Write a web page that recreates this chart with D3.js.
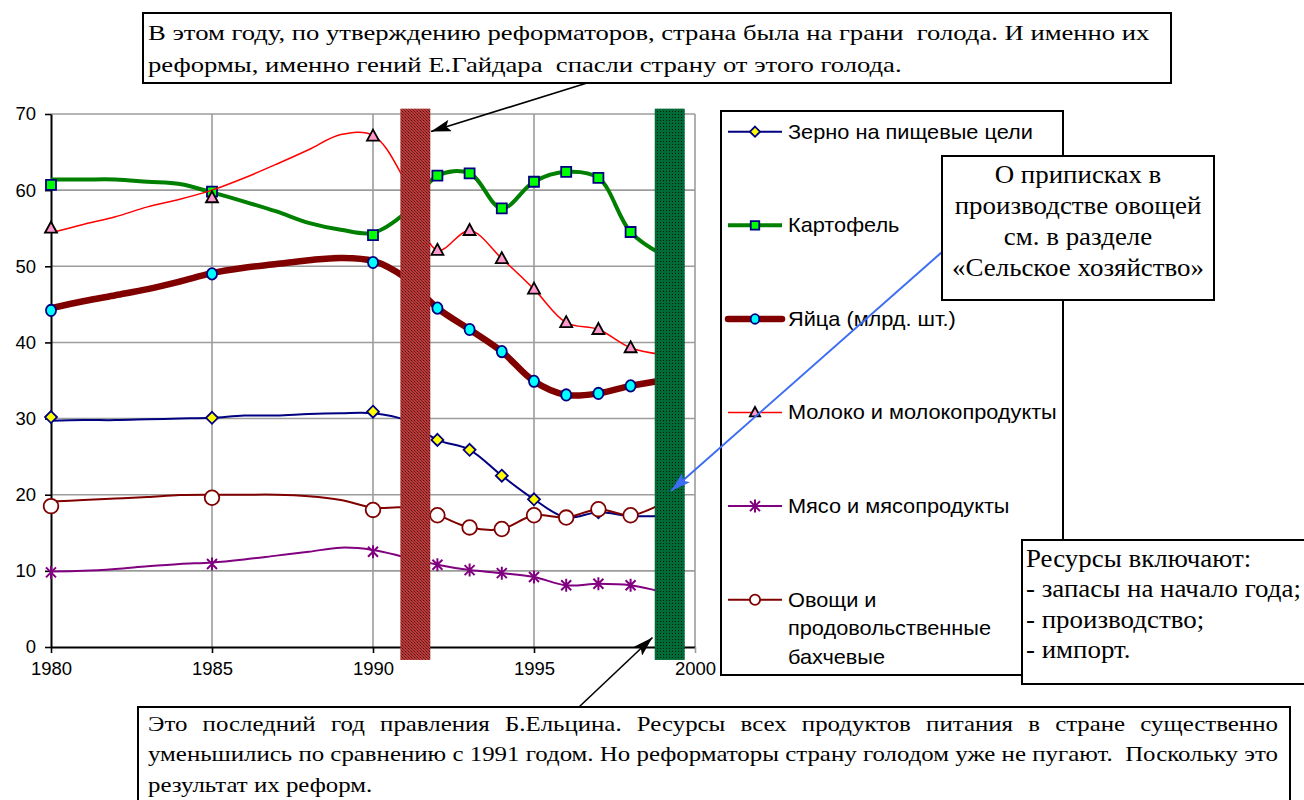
<!DOCTYPE html>
<html>
<head>
<meta charset="utf-8">
<title>Ресурсы продуктов питания 1980-1999</title>
<script src="https://cdn.jsdelivr.net/npm/d3@7"></script>
<style>
  body { margin: 0; background: #fff; }
  svg { display: block; }
  .pre { white-space: pre; }
</style>
</head>
<body>
<script>
// ---------------- данные (млн т, яйца - млрд шт.) ----------------
var years = d3.range(1980, 2000);
var markYears = [1980, 1985, 1990, 1992, 1993, 1994, 1995, 1996, 1997, 1998];

var grainLine  = [29.7, 29.8, 29.8, 29.9, 30.0, 30.1, 30.4, 30.4, 30.6, 30.7, 30.7, 29.8, 27.2, 25.9, 22.5, 19.4, 17.0, 17.7, 17.2, 17.2];
var grainMarks = [30.2, 30.1, 30.9, 27.2, 25.9, 22.5, 19.4, 17.0, 17.7, 17.2];

var potatoLine  = [61.4, 61.4, 61.4, 61.1, 60.8, 59.7, 58.5, 57.2, 55.7, 54.8, 54.4, 57.0, 61.9, 62.2, 57.6, 61.1, 62.4, 61.6, 54.5, 51.5];
var potatoMarks = [60.7, 59.8, 54.1, 61.9, 62.2, 57.6, 61.1, 62.4, 61.6, 54.5];

var eggsLine  = [44.5, 45.4, 46.2, 47.0, 48.0, 49.1, 49.8, 50.3, 50.8, 51.1, 50.7, 48.5, 44.5, 41.7, 38.8, 34.9, 33.1, 33.3, 34.3, 35.0];
var eggsMarks = [44.2, 49.0, 50.5, 44.5, 41.7, 38.8, 34.9, 33.1, 33.3, 34.3];

var milkLine  = [54.4, 55.5, 56.5, 57.8, 58.8, 60.0, 61.6, 63.4, 65.3, 67.3, 67.2, 61.2, 52.1, 54.7, 51.0, 47.0, 42.6, 41.7, 39.3, 38.4];
var milkMarks = [55.0, 59.0, 67.1, 52.1, 54.7, 51.0, 47.0, 42.6, 41.7, 39.3];

var meatLine  = [9.9, 10.0, 10.25, 10.6, 10.9, 11.1, 11.5, 12.0, 12.5, 13.05, 12.75, 11.8, 10.8, 10.1, 9.7, 9.2, 8.1, 8.3, 8.1, 7.2];
var meatMarks = [9.8, 10.9, 12.5, 10.8, 10.1, 9.7, 9.2, 8.1, 8.3, 8.1];

var vegLine  = [19.1, 19.3, 19.5, 19.7, 19.95, 20.0, 20.0, 20.0, 19.8, 19.3, 18.3, 18.3, 17.3, 15.7, 15.5, 17.3, 17.0, 18.1, 17.3, 18.9];
var vegMarks = [18.5, 19.6, 18.0, 17.3, 15.7, 15.5, 17.3, 17.0, 18.1, 17.3];

var seriesNames = ["Зерно на пищевые цели", "Картофель", "Яйца (млрд. шт.)",
                   "Молоко и молокопродукты", "Мясо и мясопродукты",
                   "Овощи и|продовольственные|бахчевые"];

// выделенные годы: 1991 и 1999
var highlightStart = [1990.85, 1998.75];
var highlightWidth = 0.93;

var xTicks = [1980, 1985, 1990, 1995, 2000];
var yTicks = [0, 10, 20, 30, 40, 50, 60, 70];

var topNote = ["В этом году, по утверждению реформаторов, страна была на грани  голода. И именно их",
               "реформы, именно гений Е.Гайдара  спасли страну от этого голода."];
var bottomNote = ["Это последний год правления Б.Ельцина. Ресурсы всех продуктов питания в стране существенно",
                  "уменьшились по сравнению с 1991 годом. Но реформаторы страну голодом уже не пугают.  Поскольку это",
                  "результат их реформ."];
var vegNote = ["О приписках в", "производстве овощей", "см. в разделе", "«Сельское хозяйство»"];
var resNote = ["Ресурсы включают:", "- запасы на начало года;", "- производство;", "- импорт."];

// ---------------- оформление ----------------
var sans = "'Liberation Sans', Arial, sans-serif";
var serif = "'Liberation Serif', 'Times New Roman', serif";

var series = [
  { line: grainLine,  marks: grainMarks,  color: "#000080", width: 2,   sym: "diamond",  fill: "#ffff00", mstroke: "#000080" },
  { line: potatoLine, marks: potatoMarks, color: "#008000", width: 4,   sym: "square",   fill: "#00ff00", mstroke: "#000080" },
  { line: eggsLine,   marks: eggsMarks,   color: "#800000", width: 6.5, sym: "ellipse",  fill: "#00ffff", mstroke: "#000080" },
  { line: milkLine,   marks: milkMarks,   color: "#ff0000", width: 1.5, sym: "triangle", fill: "#ff99cc", mstroke: "#000000" },
  { line: meatLine,   marks: meatMarks,   color: "#800080", width: 2,   sym: "star",     fill: "none",    mstroke: "#800080" },
  { line: vegLine,    marks: vegMarks,    color: "#800000", width: 2,   sym: "bigcircle",fill: "#ffffff", mstroke: "#800000" }
];
series.forEach(function(s, i) { s.name = seriesNames[i]; });

function symPath(type, k) {
  k = k || 1;
  switch (type) {
    case "diamond":  return "M0," + (-6*k) + "L" + 6*k + ",0L0," + 6*k + "L" + (-6*k) + ",0Z";
    case "square":   return "M" + (-5*k) + "," + (-5*k) + "h" + 10*k + "v" + 10*k + "h" + (-10*k) + "Z";
    case "triangle": return "M0," + (-6.5*k) + "L" + 6*k + "," + 4.5*k + "L" + (-6*k) + "," + 4.5*k + "Z";
    case "star":     return "M-5,-5L5,5M-5,5L5,-5M0,-6.5V6.5";
  }
  return null;
}

function drawMarker(g, s, cx, cy, k) {
  k = k || 1;
  if (s.sym === "ellipse") {
    g.append("ellipse").attr("cx", cx).attr("cy", cy).attr("rx", 5 * k).attr("ry", 5.7 * k)
      .attr("fill", s.fill).attr("stroke", s.mstroke).attr("stroke-width", 1.8);
  } else if (s.sym === "bigcircle") {
    g.append("circle").attr("cx", cx).attr("cy", cy).attr("r", 7.3 * k)
      .attr("fill", s.fill).attr("stroke", s.mstroke).attr("stroke-width", 1.8);
  } else {
    g.append("path").attr("d", symPath(s.sym, k))
      .attr("transform", "translate(" + cx + "," + cy + ")")
      .attr("fill", s.fill).attr("stroke", s.mstroke)
      .attr("stroke-width", s.sym === "star" ? 2 : 1.8);
  }
}

// ---------------- svg ----------------
var width = 1304, height = 800;
var svg = d3.select("body").append("svg").attr("width", width).attr("height", height);
var defs = svg.append("defs");

var x = d3.scaleLinear().domain([1980, 2000]).range([51, 695]);
var y = d3.scaleLinear().domain([0, 70]).range([647, 114]);

// узоры для столбиков
var pRed = defs.append("pattern").attr("id", "dotsRed").attr("patternUnits", "userSpaceOnUse")
  .attr("width", 3).attr("height", 3);
pRed.append("rect").attr("width", 3).attr("height", 3).attr("fill", "#bb3a3a");
pRed.append("rect").attr("width", 1).attr("height", 1).attr("fill", "#4e1212");
pRed.append("rect").attr("x", 1).attr("y", 1).attr("width", 1).attr("height", 1).attr("fill", "#7a2222");
pRed.append("rect").attr("x", 2).attr("y", 2).attr("width", 1).attr("height", 1).attr("fill", "#7a2222");
var pGreen = defs.append("pattern").attr("id", "dotsGreen").attr("patternUnits", "userSpaceOnUse")
  .attr("width", 3).attr("height", 3);
pGreen.append("rect").attr("width", 3).attr("height", 3).attr("fill", "#006b36");
pGreen.append("rect").attr("width", 1).attr("height", 1).attr("fill", "#001a0c");

// стрелки
function arrowHead(id, color) {
  defs.append("marker").attr("id", id).attr("viewBox", "0 0 20 12")
    .attr("refX", 20).attr("refY", 6).attr("markerWidth", 20).attr("markerHeight", 12)
    .attr("markerUnits", "userSpaceOnUse").attr("orient", "auto")
    .append("path").attr("d", "M0,0L20,6L0,12L4,6Z").attr("fill", color);
}
arrowHead("arrBlack", "#000");
arrowHead("arrBlue", "#3d6df2");

// сетка
var grid = svg.append("g");
grid.selectAll("line.h").data(yTicks.filter(function(d) { return d > 0; })).join("line")
  .attr("x1", x(1980)).attr("x2", x(2000))
  .attr("y1", function(d) { return y(d); }).attr("y2", function(d) { return y(d); })
  .attr("stroke", "#9c9c9c").attr("stroke-width", 1.6);
grid.selectAll("line.v").data(xTicks.filter(function(d) { return d > 1980; })).join("line")
  .attr("x1", function(d) { return x(d); }).attr("x2", function(d) { return x(d); })
  .attr("y1", y(70)).attr("y2", y(0))
  .attr("stroke", "#9c9c9c").attr("stroke-width", 1.6);

// оси
var yAxis = svg.append("g").attr("transform", "translate(" + x(1980) + ",0)")
  .call(d3.axisLeft(y).tickValues(yTicks).tickSize(6).tickSizeOuter(0).tickPadding(9));
var xAxis = svg.append("g").attr("transform", "translate(0," + y(0) + ")")
  .call(d3.axisBottom(x).tickValues(xTicks).tickFormat(d3.format("d")).tickSize(6).tickSizeOuter(0).tickPadding(9));
[yAxis, xAxis].forEach(function(a) {
  a.select(".domain").attr("stroke", "#000").attr("stroke-width", 2);
  a.selectAll(".tick line").attr("stroke", "#000").attr("stroke-width", 1.6);
  a.selectAll(".tick text").attr("fill", "#000").style("font-family", sans).style("font-size", "18.5px");
});
xAxis.selectAll(".tick").filter(function(d) { return d === 2000; }).select("line").attr("stroke", "#9c9c9c");

// линии рядов
var lineGen = d3.line()
  .x(function(d, i) { return x(years[i]); })
  .y(function(d) { return y(d); })
  .curve(d3.curveCatmullRom.alpha(0.5));

var plot = svg.append("g");
series.forEach(function(s) {
  var g = plot.append("g");
  g.append("path").datum(s.line).attr("d", lineGen)
    .attr("fill", "none").attr("stroke", s.color).attr("stroke-width", s.width)
    .attr("stroke-linejoin", "round");
  s.marks.forEach(function(v, i) { drawMarker(g, s, x(markYears[i]), y(v)); });
});

// выделенные годы
var barFills = ["url(#dotsRed)", "url(#dotsGreen)"];
svg.append("g").selectAll("rect").data(highlightStart).join("rect")
  .attr("x", function(d) { return x(d); })
  .attr("width", function(d) { return x(d + highlightWidth) - x(d); })
  .attr("y", y(70.7)).attr("height", y(-1.7) - y(70.7))
  .attr("fill", function(d, i) { return barFills[i]; });

// легенда
var legend = svg.append("g");
legend.append("rect").attr("x", 721).attr("y", 111).attr("width", 342).attr("height", 564)
  .attr("fill", "#fff").attr("stroke", "#000").attr("stroke-width", 2);

var legRow = d3.scaleLinear().domain([0, 5]).range([131.7, 599.7]);
series.forEach(function(s, i) {
  var cy = legRow(i);
  var g = legend.append("g");
  g.append("line").attr("x1", 728).attr("x2", 782).attr("y1", cy).attr("y2", cy)
    .attr("stroke", s.color).attr("stroke-width", s.width)
    .attr("stroke-linecap", s.width > 5 ? "round" : "butt");
  drawMarker(g, s, 755, cy, s.sym === "bigcircle" ? 0.7 : 0.85);
  var tg = g.append("g").attr("class", "legtext").attr("transform", "translate(788,0)");
  s.name.split("|").forEach(function(t, j) {
    tg.append("text").attr("y", cy + 7 + j * 28.5).text(t)
      .style("font-family", sans).style("font-size", "20px").attr("fill", "#000");
  });
});
// подгоняем ширину подписей легенды под оригинал
var legScale = 245 / legend.select(".legtext text").node().getComputedTextLength();
legend.selectAll(".legtext").attr("transform", "translate(788,0) scale(" + legScale + ",1)");

// ---------------- выноски ----------------
function spaceWidth(g, style) {
  var a = g.append("text").attr("class", "pre").call(style).text("н н");
  var b = g.append("text").attr("class", "pre").call(style).text("нн");
  var w = a.node().getComputedTextLength() - b.node().getComputedTextLength();
  a.remove(); b.remove();
  return w;
}

// верхняя выноска
svg.append("line").attr("x1", 587).attr("y1", 83).attr("x2", 431).attr("y2", 131.5)
  .attr("stroke", "#000").attr("stroke-width", 1.6).attr("marker-end", "url(#arrBlack)");
svg.append("rect").attr("x", 143).attr("y", 13).attr("width", 1028).attr("height", 70)
  .attr("fill", "#fff").attr("stroke", "#000").attr("stroke-width", 2);
var topG = svg.append("g");
var topStyle = function(t) { t.style("font-family", serif).style("font-size", "22px").attr("fill", "#000"); };
topNote.forEach(function(t, i) {
  topG.append("text").attr("class", "pre").attr("x", 0).attr("y", 40 + i * 32).call(topStyle).text(t);
});
var serifScale = 1002 / topG.select("text").node().getComputedTextLength();
topG.attr("transform", "translate(148,0) scale(" + serifScale + ",1)");

// нижняя выноска (выровнена по ширине)
svg.append("line").attr("x1", 579).attr("y1", 707).attr("x2", 652.5).attr("y2", 637.5)
  .attr("stroke", "#000").attr("stroke-width", 1.6).attr("marker-end", "url(#arrBlack)");
svg.append("rect").attr("x", 138).attr("y", 707).attr("width", 1152).attr("height", 100)
  .attr("fill", "#fff").attr("stroke", "#000").attr("stroke-width", 2);
var botG = svg.append("g");
var botStyle = function(t) { t.style("font-family", serif).style("font-size", "22px").attr("fill", "#000"); };
var sp = spaceWidth(botG, botStyle);
var botLines = bottomNote.map(function(t, i) {
  var parts = t.split(/( +)/);
  var words = parts.filter(function(p, j) { return j % 2 === 0; });
  var units = parts.filter(function(p, j) { return j % 2 === 1; }).map(function(p) { return p.length; });
  var nodes = words.map(function(w) {
    return botG.append("text").attr("y", 731 + i * 30.5).call(botStyle).text(w);
  });
  var ws = nodes.map(function(n) { return n.node().getComputedTextLength(); });
  return { nodes: nodes, ws: ws, units: units, natural: d3.sum(ws) + sp * d3.sum(units) };
});
// второй строке хватает ширины рамки ровно при обычных пробелах
var botScale = 1130 / botLines[1].natural;
var lineW = 1130 / botScale;
botLines.forEach(function(L, i) {
  var justify = i < botLines.length - 1;
  var extra = justify ? Math.max(0, (lineW - L.natural) / L.units.length) : 0;
  var cx = 0;
  L.nodes.forEach(function(n, j) {
    n.attr("x", cx);
    cx += L.ws[j] + (j < L.units.length ? sp * L.units[j] + extra : 0);
  });
});
botG.attr("transform", "translate(148,0) scale(" + botScale + ",1)");

// синяя стрелка и рамка про овощи
svg.append("line").attr("x1", 942).attr("y1", 252).attr("x2", 671).attr("y2", 491)
  .attr("stroke", "#3d6df2").attr("stroke-width", 2).attr("marker-end", "url(#arrBlue)");
svg.append("rect").attr("x", 942).attr("y", 156).attr("width", 272).attr("height", 144)
  .attr("fill", "#fff").attr("stroke", "#000").attr("stroke-width", 2);
var vegG = svg.append("g");
vegNote.forEach(function(t, i) {
  vegG.append("text").attr("x", 0).attr("y", 183 + i * 31).attr("text-anchor", "middle")
    .style("font-family", serif).style("font-size", "25px").attr("fill", "#000").text(t);
});
var vegScale = 252 / vegG.selectAll("text").nodes()[3].getComputedTextLength();
vegG.attr("transform", "translate(1078,0) scale(" + vegScale + ",1)");

// рамка про ресурсы
svg.append("rect").attr("x", 1022).attr("y", 540).attr("width", 300).attr("height", 144)
  .attr("fill", "#fff").attr("stroke", "#000").attr("stroke-width", 2);
var resG = svg.append("g");
resNote.forEach(function(t, i) {
  resG.append("text").attr("x", 0).attr("y", 567 + i * 30.5)
    .style("font-family", serif).style("font-size", "25px").attr("fill", "#000").text(t);
});
var resScale = 275 / resG.selectAll("text").nodes()[1].getComputedTextLength();
resG.attr("transform", "translate(1026,0) scale(" + resScale + ",1)");
</script>
</body>
</html>
